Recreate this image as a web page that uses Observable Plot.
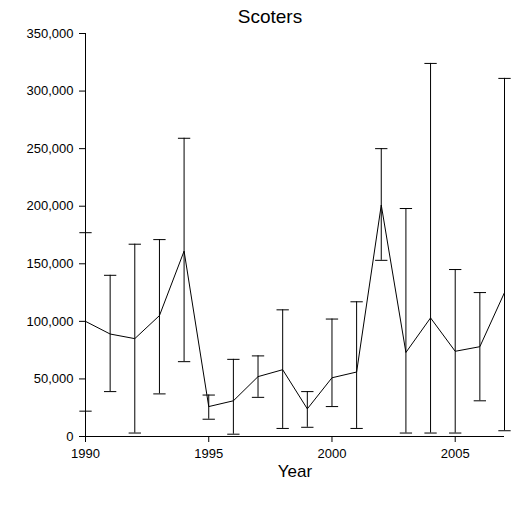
<!DOCTYPE html>
<html><head><meta charset="utf-8">
<script src="https://cdn.jsdelivr.net/npm/d3@7"></script>
<script src="https://cdn.jsdelivr.net/npm/@observablehq/plot@0.6"></script>
<style>body{margin:0;background:#fff;font-family:"Liberation Sans",Arial,sans-serif}#c{position:relative;width:525px;height:506px}#t{position:absolute;left:0;width:540px;top:6px;text-align:center;font-size:19px}</style>
</head><body><div id="c"><div id="t">Scoters</div></div>
<script>
const years=[1990,1991,1992,1993,1994,1995,1996,1997,1998,1999,2000,2001,2002,2003,2004,2005,2006,2007];
const means=[100000,89000,85000,105000,161000,26000,31000,52000,58000,24000,51000,56000,201000,73000,103000,74000,78000,125000];
const upper=[177000,140000,167000,171000,259000,36000,67000,70000,110000,39000,102000,117000,250000,198000,324000,145000,125000,311000];
const lower=[22000,39000,3000,37000,65000,15000,2000,34000,7000,8000,26000,7000,153000,3000,3000,3000,31000,5000];
const data=years.map((y,i)=>({year:y,mean:means[i],hi:upper[i],lo:lower[i]}));
const cap=0.25;
const p=Plot.plot({width:525,height:506,marginLeft:85,marginRight:21,marginTop:33,marginBottom:70,
style:{fontFamily:"Liberation Sans, Arial, sans-serif",fontSize:"13px",color:"#000"},
x:{domain:[1990,2007],ticks:[1990,1995,2000,2005],tickFormat:d=>String(d),label:"Year",labelArrow:"none",labelAnchor:"center",labelOffset:40,tickSize:6,tickPadding:6},
y:{domain:[0,350000],ticks:d3.range(0,350001,50000),tickFormat:d3.format(","),label:null,tickSize:6,tickPadding:6},
marks:[
Plot.ruleX(data,{x:"year",y1:"lo",y2:"hi",stroke:"#000",strokeWidth:1}),
Plot.link(data,{x1:d=>d.year-cap,x2:d=>d.year+cap,y1:"hi",y2:"hi",stroke:"#000",strokeWidth:1}),
Plot.link(data,{x1:d=>d.year-cap,x2:d=>d.year+cap,y1:"lo",y2:"lo",stroke:"#000",strokeWidth:1}),
Plot.line(data,{x:"year",y:"mean",stroke:"#000",strokeWidth:1}),
Plot.ruleX([1990],{stroke:"#000"}),
Plot.ruleY([0],{stroke:"#000"})
]});
p.querySelectorAll("[aria-label='x-axis label'], [aria-label='x-axis label'] text").forEach(e=>e.style.fontSize="17px");
document.getElementById("c").appendChild(p);
</script></body></html>
